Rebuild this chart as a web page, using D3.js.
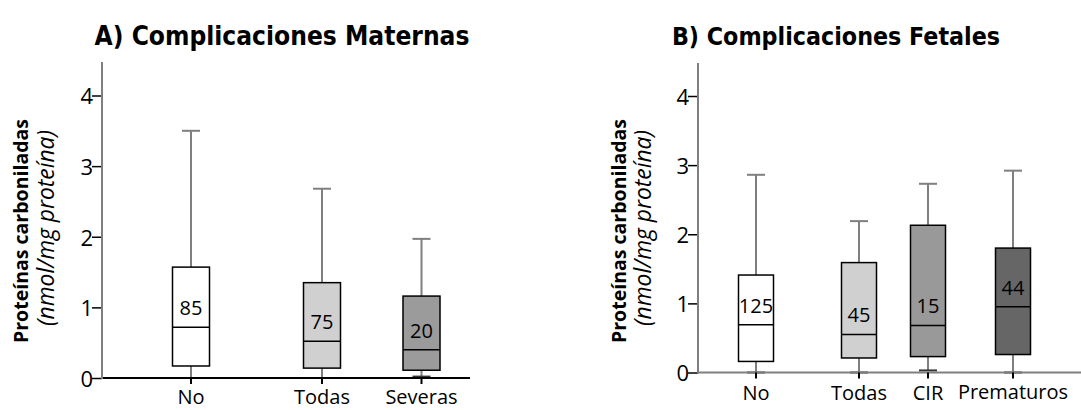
<!DOCTYPE html>
<html>
<head>
<meta charset="utf-8">
<script src="https://cdn.jsdelivr.net/npm/d3@7"></script>
<style>
  html, body { margin: 0; padding: 0; background: #fff; }
  svg { display: block; }
  text { font-family: "Open Sans", "DejaVu Sans", sans-serif; }
  .ttl { font-family: "Liberation Sans Narrow", "DejaVu Sans Condensed", "Open Sans", sans-serif; }
</style>
</head>
<body>
<svg id="chart" width="1081" height="410"></svg>
<script>
// ---------- DATA ----------
const titleA = "A) Complicaciones Maternas";
const titleB = "B) Complicaciones Fetales";
const yTitle = "Proteínas carboniladas";
const yUnit = "(nmol/mg proteína)";
const yTicks = [0, 1, 2, 3, 4];

const catsA = ["No", "Todas", "Severas"];
const highA = [3.50, 2.68, 1.97];
const q3A   = [1.57, 1.35, 1.16];
const medA  = [0.72, 0.52, 0.40];
const q1A   = [0.17, 0.14, 0.11];
const lowA  = [0.00, 0.00, 0.02];
const nA    = [85, 75, 20];

const catsB = ["No", "Todas", "CIR", "Prematuros"];
const highB = [2.86, 2.19, 2.73, 2.92];
const q3B   = [1.41, 1.59, 2.13, 1.80];
const medB  = [0.69, 0.55, 0.68, 0.95];
const q1B   = [0.16, 0.21, 0.23, 0.26];
const lowB  = [0.00, 0.00, 0.03, 0.00];
const nB    = [125, 45, 15, 44];

// ---------- LAYOUT / STYLE ----------
const panels = [
  {
    title: titleA, titleX: 282, titleW: 375,
    cats: catsA, high: highA, q3: q3A, med: medA, q1: q1A, low: lowA, n: nA,
    fills: ["#ffffff", "#d0d0d0", "#9b9b9b"],
    axisX: 102, axisEnd: 470, y0: 378, y4: 95.5, yTop: 62,
    catPos: [191, 322, 421.5], xLabelDy: [0, 0, 0],
    boxW: 37, xAxisColor: "#000",
    titleBoldX: 28, titleItalX: 54
  },
  {
    title: titleB, titleX: 836, titleW: 328,
    cats: catsB, high: highB, q3: q3B, med: medB, q1: q1B, low: lowB, n: nB,
    fills: ["#ffffff", "#d0d0d0", "#999999", "#666666"],
    axisX: 698, axisEnd: 1081, y0: 372.5, y4: 96, yTop: 63,
    catPos: [756, 859, 928, 1013], xLabelDy: [0, 0, 0, -1],
    boxW: 35, xAxisColor: "#7f7f7f",
    titleBoldX: 626, titleItalX: 651
  }
];

const svg = d3.select("#chart");

function fitText(sel, target) {
  const node = sel.node();
  let fs = parseFloat(sel.attr("font-size"));
  for (let i = 0; i < 4; i++) {
    const len = node.getComputedTextLength();
    if (len > 0) fs = fs * target / len;
    sel.attr("font-size", fs.toFixed(2));
  }
}

panels.forEach(p => {
  const g = svg.append("g");
  const unit = (p.y0 - p.y4) / 4;
  const yMax = (p.y0 - p.yTop) / unit;
  const y = d3.scaleLinear().domain([0, yMax]).range([p.y0, p.yTop]);
  const x = d3.scaleOrdinal().domain(p.cats).range(p.catPos);

  // Title
  const t = g.append("text")
    .attr("class", "ttl")
    .attr("x", p.titleX).attr("y", 45)
    .attr("text-anchor", "middle")
    .attr("font-weight", "bold")
    .attr("font-size", 26)
    .attr("fill", "#000")
    .text(p.title);
  fitText(t, p.titleW);
  if (parseFloat(t.attr("font-size")) > 27) t.attr("font-size", 27);

  // Y axis titles
  const cy = 231;
  const yt1 = g.append("text")
    .attr("transform", `translate(${p.titleBoldX},${cy}) rotate(-90)`)
    .attr("text-anchor", "middle")
    .attr("font-weight", "bold")
    .attr("font-size", 16)
    .text(yTitle);
  fitText(yt1, 224);
  const yt2 = g.append("text")
    .attr("transform", `translate(${p.titleItalX},${cy - 3}) rotate(-90)`)
    .attr("text-anchor", "middle")
    .attr("font-style", "italic")
    .attr("font-size", 16)
    .text(yUnit);
  fitText(yt2, 196);

  // Boxes data
  const data = p.cats.map((c, i) => ({
    cat: c, high: p.high[i], q3: p.q3[i], med: p.med[i], q1: p.q1[i],
    low: p.low[i], n: p.n[i], fill: p.fills[i], dy: p.xLabelDy[i]
  }));

  const bw = p.boxW, cw = 18;
  const box = g.selectAll("g.box").data(data).join("g").attr("class", "box");

  // whiskers
  box.append("line")
    .attr("x1", d => x(d.cat)).attr("x2", d => x(d.cat))
    .attr("y1", d => y(d.q3)).attr("y2", d => y(d.high))
    .attr("stroke", "#7f7f7f").attr("stroke-width", 2);
  box.append("line")
    .attr("x1", d => x(d.cat) - cw / 2).attr("x2", d => x(d.cat) + cw / 2)
    .attr("y1", d => y(d.high)).attr("y2", d => y(d.high))
    .attr("stroke", "#7f7f7f").attr("stroke-width", 2);
  box.append("line")
    .attr("x1", d => x(d.cat)).attr("x2", d => x(d.cat))
    .attr("y1", d => y(d.q1)).attr("y2", d => y(d.low))
    .attr("stroke", "#7f7f7f").attr("stroke-width", 2);
  box.append("line")
    .attr("x1", d => x(d.cat) - cw / 2).attr("x2", d => x(d.cat) + cw / 2)
    .attr("y1", d => y(d.low)).attr("y2", d => y(d.low))
    .attr("stroke", "#333").attr("stroke-width", 2);

  // box
  box.append("rect")
    .attr("x", d => x(d.cat) - bw / 2)
    .attr("width", bw)
    .attr("y", d => y(d.q3))
    .attr("height", d => y(d.q1) - y(d.q3))
    .attr("fill", d => d.fill)
    .attr("stroke", "#000").attr("stroke-width", 1.5);
  // median
  box.append("line")
    .attr("x1", d => x(d.cat) - bw / 2).attr("x2", d => x(d.cat) + bw / 2)
    .attr("y1", d => y(d.med)).attr("y2", d => y(d.med))
    .attr("stroke", "#000").attr("stroke-width", 1.5);
  // n label
  box.append("text")
    .attr("x", d => x(d.cat))
    .attr("y", d => y(d.med) - 19)
    .attr("dy", "0.35em")
    .attr("text-anchor", "middle")
    .attr("font-size", 20)
    .attr("fill", "#000")
    .text(d => d.n);

  // X axis
  g.append("line")
    .attr("x1", p.axisX).attr("x2", p.axisEnd)
    .attr("y1", p.y0).attr("y2", p.y0)
    .attr("stroke", p.xAxisColor).attr("stroke-width", 1.8);
  const xa = g.selectAll("g.xt").data(data).join("g").attr("class", "xt");
  xa.append("line")
    .attr("x1", d => x(d.cat)).attr("x2", d => x(d.cat))
    .attr("y1", p.y0).attr("y2", p.y0 + 6)
    .attr("stroke", "#000").attr("stroke-width", 2);
  xa.append("text")
    .attr("x", d => x(d.cat))
    .attr("y", d => Math.min(p.y0 + 27 + d.dy, 404))
    .attr("text-anchor", "middle")
    .attr("font-size", 20)
    .attr("fill", "#000")
    .text(d => d.cat);

  // Y axis
  const yAxis = d3.axisLeft(y).tickValues(yTicks).tickSize(10).tickPadding(-1).tickFormat(d3.format("d"));
  const ya = g.append("g").attr("transform", `translate(${p.axisX},0)`).call(yAxis);
  ya.select(".domain").remove();
  ya.selectAll(".tick line").attr("stroke", "#000").attr("stroke-width", 1.5);
  ya.selectAll(".tick text")
    .attr("font-size", 22)
    .attr("font-family", "'Open Sans', sans-serif")
    .attr("fill", "#000")
    .attr("dy", "0.38em");
  g.append("line")
    .attr("x1", p.axisX).attr("x2", p.axisX)
    .attr("y1", p.y0 + 1).attr("y2", p.yTop)
    .attr("stroke", "#7f7f7f").attr("stroke-width", 2);
});
</script>
</body>
</html>
